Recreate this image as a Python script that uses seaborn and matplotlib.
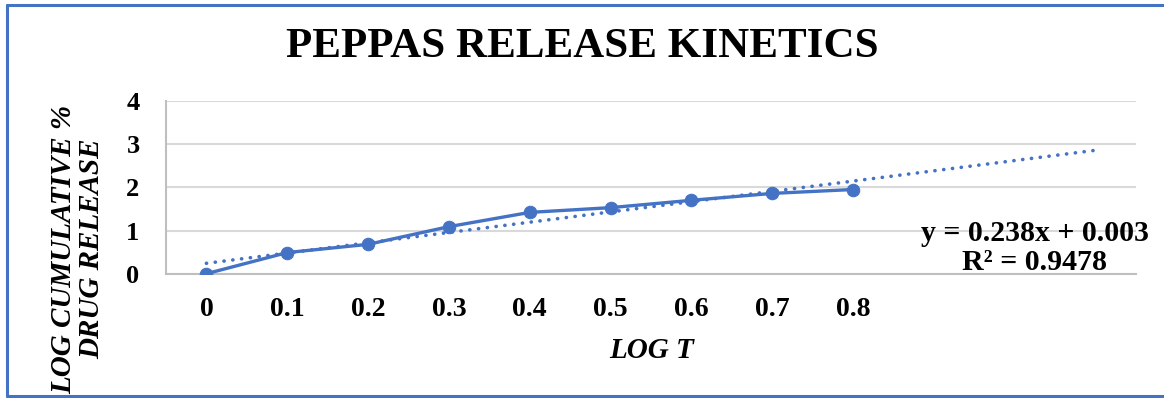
import numpy as np
import pandas as pd
import matplotlib
matplotlib.use("Agg")
import matplotlib.pyplot as plt
from matplotlib.lines import Line2D
import seaborn as sns

# ---- data ----
log_t_labels = ["0", "0.1", "0.2", "0.3", "0.4", "0.5", "0.6", "0.7", "0.8"]
log_release = [0.0, 0.49, 0.68, 1.09, 1.42, 1.53, 1.70, 1.86, 1.95]
trend_slope = 0.238
trend_intercept = 0.003
trend_forward = 3          # Excel forecast-forward periods
y_ticks = [0, 1, 2, 3, 4]

title = "PEPPAS RELEASE KINETICS"
x_label = "LOG T"
y_label = "LOG CUMULATIVE %\nDRUG RELEASE"
eq_text = "y = 0.238x + 0.003\nR\u00b2 = 0.9478"

BLUE = "#4472C4"
GRID = "#D9D9D9"

sns.set_theme(style="white", rc={"text.color": "black", "axes.labelcolor": "black",
                                 "xtick.color": "black", "ytick.color": "black"})
plt.rcParams["font.family"] = ["Liberation Serif", "DejaVu Serif"]

fig = plt.figure(figsize=(11.64, 3.98), dpi=100)
ax = fig.add_axes([166 / 1164, 1 - 273.7 / 398, (1136 - 166) / 1164, (273.7 - 101) / 398])

n = len(log_t_labels)
df = pd.DataFrame({"pos": np.arange(n), "y": log_release})
tpos = np.arange(n + trend_forward)
tdf = pd.DataFrame({"pos": tpos, "y": trend_slope * (tpos + 1) + trend_intercept})

sns.lineplot(data=tdf, x="pos", y="y", ax=ax, color=BLUE, linewidth=2.6,
             linestyle=(0, (0.05, 2.4)), dash_capstyle="round", zorder=2)
sns.lineplot(data=df, x="pos", y="y", ax=ax, color=BLUE, linewidth=2.4,
             marker="o", markersize=9, markeredgecolor=BLUE, zorder=3)

ax.set_xlim(-0.5, n + trend_forward - 0.5)
ax.set_ylim(0, 4)
ax.set_yticks(y_ticks)
ax.set_yticklabels([str(v) for v in y_ticks], fontsize=19, fontweight="bold")
ax.set_xticks(np.arange(n))
ax.set_xticklabels(log_t_labels, fontsize=20, fontweight="bold")
ax.tick_params(axis="x", length=0, pad=17)
ax.tick_params(axis="y", length=0, pad=19)
ax.yaxis.grid(True, color=GRID, linewidth=1.5)
ax.xaxis.grid(False)
for s in ["top", "right"]:
    ax.spines[s].set_visible(False)
ax.spines["left"].set_color("#BFBFBF")
ax.spines["bottom"].set_color("#BFBFBF")
ax.spines["left"].set_linewidth(1.5)
ax.spines["bottom"].set_linewidth(1.5)

ax.set_xlabel("")
ax.set_ylabel("")
fig.text(652 / 1164, 1 - 350 / 398, x_label, ha="center", va="center",
         fontsize=21, fontweight="bold", fontstyle="italic")
fig.text(78 / 1164, 1 - 249 / 398, y_label, rotation=90, ha="center", va="center",
         fontsize=21, fontweight="bold", fontstyle="italic", linespacing=1.05)

fig.text(0.5, 1 - 47 / 398, title, ha="center", va="center",
         fontsize=31, fontweight="bold")

fig.text(1035 / 1164, 1 - 248 / 398, eq_text, ha="center", va="center",
         fontsize=21.5, fontweight="bold", linespacing=1.05)

# chart frame
for (x0, y0, x1, y1) in [(7, 5, 1170, 5), (7, 5, 7, 396), (7, 396, 1170, 396)]:
    fig.add_artist(Line2D([x0 / 1164, x1 / 1164], [1 - y0 / 398, 1 - y1 / 398],
                          color=BLUE, linewidth=2.2, zorder=10))

fig.savefig("out.png", dpi=100)
